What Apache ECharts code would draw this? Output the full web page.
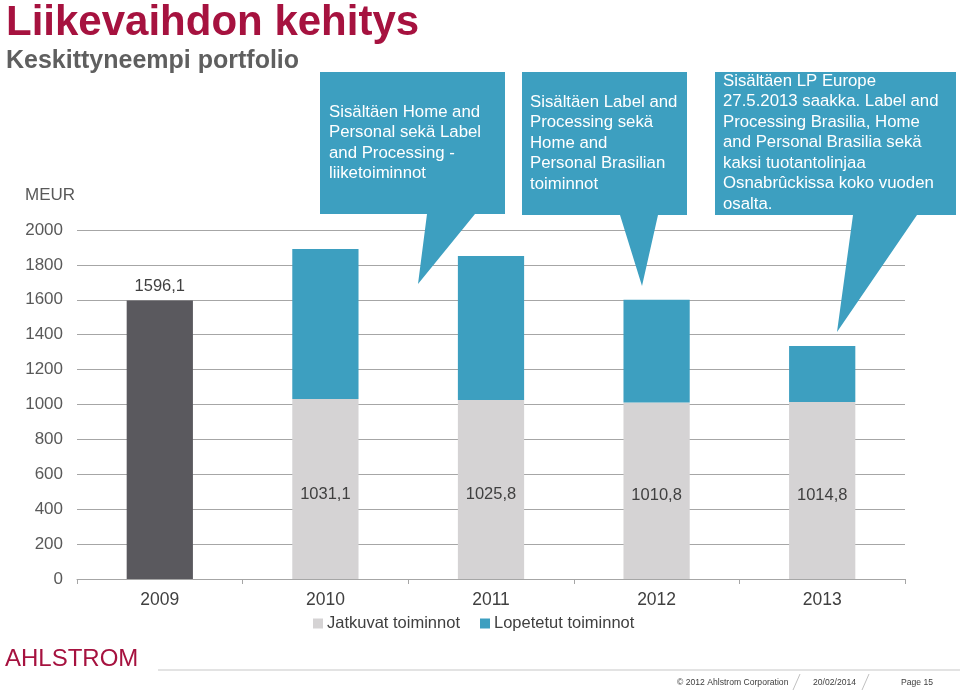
<!DOCTYPE html>
<html>
<head>
<meta charset="utf-8">
<script src="https://cdn.jsdelivr.net/npm/echarts@6/dist/echarts.min.js"></script>
<style>
html,body{margin:0;padding:0;background:#fff;}
#chart{width:960px;height:690px;}
</style>
</head>
<body>
<div id="chart"></div>
<script>
// ---- data ----
var categories = ['2009', '2010', '2011', '2012', '2013'];
var jatkuvat = [1596.1, 1031.1, 1025.8, 1010.8, 1014.8];
var lopetetut = [null, 860, 825, 589, 320];
var seriesNames = ['Jatkuvat toiminnot', 'Lopetetut toiminnot'];
var yTicks = [0, 200, 400, 600, 800, 1000, 1200, 1400, 1600, 1800, 2000];
var calloutTexts = [
  'Sisältäen Home and\nPersonal sekä Label\nand Processing -\nliiketoiminnot',
  'Sisältäen Label and\nProcessing sekä\nHome and\nPersonal Brasilian\ntoiminnot',
  'Sisältäen LP Europe\n27.5.2013 saakka. Label and\nProcessing Brasilia, Home\nand Personal Brasilia sekä\nkaksi tuotantolinjaa\nOsnabrûckissa koko vuoden\nosalta.'
];

var BLUE = '#3d9fc0', LIGHT = '#d5d3d4', DARK = '#5a595e', CRIMSON = '#a6123f';
var FONT = 'Liberation Sans';

function fmt(v) { return String(v).replace('.', ','); }

var jatkuvatData = jatkuvat.map(function (v, i) {
  if (i === 0) {
    return { value: v, itemStyle: { color: DARK },
      label: { position: 'top', distance: 6, offset: [0, 0] } };
  }
  return { value: v };
});

var chart = echarts.init(document.getElementById('chart'));

var calloutBoxes = [
  { box: [320, 72, 505, 214], ptr: [[427, 214], [475, 214], [418, 284]], text: [329, 102] },
  { box: [522, 72, 687, 215], ptr: [[620, 215], [658, 215], [642, 286]], text: [530, 92] },
  { box: [715, 72, 956, 215], ptr: [[853, 215], [917, 215], [837, 332]], text: [723, 71] }
];

var graphics = [];
calloutBoxes.forEach(function (c, i) {
  graphics.push({
    type: 'polygon', z: 10,
    shape: { points: [[c.box[0], c.box[1]], [c.box[2], c.box[1]], [c.box[2], c.box[3]],
      c.ptr[1], c.ptr[2], c.ptr[0], [c.box[0], c.box[3]]] },
    style: { fill: BLUE }
  });
  graphics.push({
    type: 'text', z: 11, left: c.text[0], top: c.text[1],
    style: { text: calloutTexts[i], fill: '#ffffff', font: '16.8px ' + FONT, lineHeight: 20.5 }
  });
});

graphics.push(
  { type: 'text', left: 25, top: 187, style: { text: 'MEUR', fill: '#595959', font: '17px ' + FONT } },
  { type: 'text', left: 5, top: 647, style: { text: 'AHLSTROM', fill: CRIMSON, font: '24px ' + FONT } },
  { type: 'line', shape: { x1: 158, y1: 670, x2: 960, y2: 670 }, style: { stroke: '#e3e3e3', lineWidth: 2 } },
  { type: 'text', left: 677, top: 678, style: { text: '© 2012 Ahlstrom Corporation', fill: '#404040', font: '8.6px ' + FONT } },
  { type: 'line', shape: { x1: 800, y1: 674, x2: 793, y2: 690 }, style: { stroke: '#c0c0c0', lineWidth: 1 } },
  { type: 'text', left: 813, top: 678, style: { text: '20/02/2014', fill: '#404040', font: '8.6px ' + FONT } },
  { type: 'line', shape: { x1: 869, y1: 674, x2: 862, y2: 690 }, style: { stroke: '#c0c0c0', lineWidth: 1 } },
  { type: 'text', left: 901, top: 678, style: { text: 'Page 15', fill: '#404040', font: '8.6px ' + FONT } }
);

chart.setOption({
  animation: false,
  backgroundColor: '#ffffff',
  textStyle: { fontFamily: FONT },
  title: {
    text: 'Liikevaihdon kehitys',
    subtext: 'Keskittyneempi portfolio',
    left: 1, top: -3,
    itemGap: 5,
    textStyle: { fontSize: 42, fontWeight: 'bold', color: CRIMSON, fontFamily: FONT },
    subtextStyle: { fontSize: 25, fontWeight: 'bold', color: '#5f5f5f', fontFamily: FONT }
  },
  legend: {
    data: seriesNames,
    top: 610, left: 308,
    itemWidth: 10, itemHeight: 10, itemGap: 20,
    icon: 'rect',
    textStyle: { fontSize: 16.5, color: '#404040', fontFamily: FONT, padding: [0, 0, 0, -1] }
  },
  grid: { left: 77, right: 55, top: 230, bottom: 111, containLabel: false },
  xAxis: {
    type: 'category',
    data: categories,
    axisLine: { lineStyle: { color: '#a6a6a6', width: 1 } },
    axisTick: { show: true, length: 5, lineStyle: { color: '#a6a6a6' } },
    axisLabel: { fontSize: 17.5, color: '#404040', margin: 12, fontFamily: FONT }
  },
  yAxis: {
    type: 'value',
    min: yTicks[0], max: yTicks[yTicks.length - 1], interval: 200,
    axisLine: { show: false },
    axisTick: { show: false },
    axisLabel: { fontSize: 17, color: '#595959', margin: 14, fontFamily: FONT,
      formatter: function (v) { return String(v); } },
    splitLine: { lineStyle: { color: '#a6a6a6', width: 1 } }
  },
  series: [
    {
      name: seriesNames[0], type: 'bar', stack: 'total',
      barWidth: '40%',
      itemStyle: { color: LIGHT },
      label: { show: true, position: 'inside', color: '#404040', fontSize: 16.5,
        offset: [0, 5],
        fontFamily: FONT, formatter: function (p) { return fmt(p.value); } },
      data: jatkuvatData
    },
    {
      name: seriesNames[1], type: 'bar', stack: 'total',
      barWidth: '40%',
      itemStyle: { color: BLUE },
      data: lopetetut
    }
  ],
  graphic: graphics
});
</script>
</body>
</html>
